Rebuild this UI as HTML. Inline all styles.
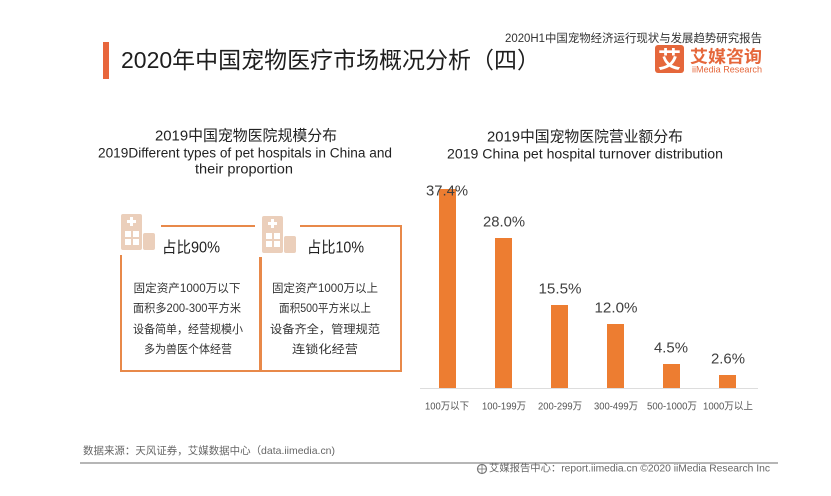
<!DOCTYPE html>
<html>
<head>
<meta charset="utf-8">
<style>
  html, body { margin: 0; padding: 0; background: #ffffff; }
  svg { display: block; }
  text { font-family: "Liberation Sans", "Noto Sans CJK SC", sans-serif; }
  .cjk { font-family: "Liberation Sans", "Noto Sans CJK SC", sans-serif; }
</style>
</head>
<body>
<svg width="831" height="496" viewBox="0 0 831 496" xmlns="http://www.w3.org/2000/svg">
  <rect x="0" y="0" width="831" height="496" fill="#ffffff"/>

  <!-- Header -->
  <rect x="103" y="42" width="6" height="37" fill="#e8663c"/>
  <text x="121" y="60" font-size="23" fill="#1e1e1e" dominant-baseline="central" textLength="419" lengthAdjust="spacingAndGlyphs">2020年中国宠物医疗市场概况分析（四）</text>
  <text x="505" y="39" font-size="11.5" fill="#333" dominant-baseline="central" textLength="257" lengthAdjust="spacingAndGlyphs">2020H1中国宠物经济运行现状与发展趋势研究报告</text>

  <!-- Logo -->
  <rect x="655" y="45" width="29" height="28" rx="3" fill="#e5673b"/>
  <text x="669.5" y="59.5" font-size="23" font-weight="bold" fill="#ffffff" text-anchor="middle" dominant-baseline="central">艾</text>
  <text x="690" y="57" font-size="17" font-weight="bold" fill="#e5673b" dominant-baseline="central" textLength="72" lengthAdjust="spacingAndGlyphs">艾媒咨询</text>
  <text x="692" y="70" font-size="9.5" fill="#e5673b" dominant-baseline="central" textLength="70" lengthAdjust="spacingAndGlyphs">iiMedia Research</text>

  <!-- Left section titles -->
  <text x="246" y="136" font-size="15" fill="#222" text-anchor="middle" dominant-baseline="central" textLength="182" lengthAdjust="spacingAndGlyphs">2019中国宠物医院规模分布</text>
  <text x="245" y="153" font-size="13.5" fill="#222" text-anchor="middle" dominant-baseline="central" textLength="294" lengthAdjust="spacingAndGlyphs">2019Different types of pet hospitals in China and</text>
  <text x="244" y="169" font-size="13.5" fill="#222" text-anchor="middle" dominant-baseline="central" textLength="98" lengthAdjust="spacingAndGlyphs">their proportion</text>

  <!-- Box outlines -->
  <g stroke="#e8894a" stroke-width="2" fill="none">
    <line x1="161" y1="226" x2="255" y2="226"/>
    <line x1="300" y1="226" x2="401" y2="226"/>
    <line x1="401" y1="225" x2="401" y2="372"/>
    <line x1="120" y1="371" x2="402" y2="371"/>
    <line x1="121" y1="255" x2="121" y2="372"/>
  </g>
  <rect x="259" y="257" width="3" height="115" fill="#e8894a"/>

  <!-- Icon 1 -->
  <g fill="#ebcfbb">
    <rect x="121" y="214" width="21" height="36" rx="2"/>
    <rect x="143" y="233" width="12" height="17" rx="2"/>
  </g>
  <g fill="#ffffff">
    <rect x="130" y="217" width="3" height="9"/>
    <rect x="127" y="220" width="9" height="3"/>
    <rect x="125" y="231" width="6" height="6"/>
    <rect x="133" y="231" width="6" height="6"/>
    <rect x="125" y="239" width="6" height="6"/>
    <rect x="133" y="239" width="6" height="6"/>
  </g>

  <!-- Icon 2 -->
  <g fill="#ebcfbb">
    <rect x="262" y="216" width="21" height="37" rx="2"/>
    <rect x="284" y="236" width="12" height="17" rx="2"/>
  </g>
  <g fill="#ffffff">
    <rect x="271" y="219" width="3" height="9"/>
    <rect x="268" y="222" width="9" height="3"/>
    <rect x="266" y="233" width="6" height="6"/>
    <rect x="274" y="233" width="6" height="6"/>
    <rect x="266" y="241" width="6" height="6"/>
    <rect x="274" y="241" width="6" height="6"/>
  </g>

  <!-- Box labels -->
  <text x="162" y="248" font-size="15.5" fill="#222" dominant-baseline="central" textLength="58" lengthAdjust="spacingAndGlyphs">占比90%</text>
  <text x="307" y="248" font-size="15.5" fill="#222" dominant-baseline="central" textLength="57" lengthAdjust="spacingAndGlyphs">占比10%</text>

  <g font-size="11.5" fill="#333" text-anchor="middle">
    <text x="187" y="289" dominant-baseline="central" textLength="107" lengthAdjust="spacingAndGlyphs">固定资产1000万以下</text>
    <text x="187" y="309" dominant-baseline="central" textLength="108" lengthAdjust="spacingAndGlyphs">面积多200-300平方米</text>
    <text x="188" y="330" dominant-baseline="central" textLength="110" lengthAdjust="spacingAndGlyphs">设备简单，经营规模小</text>
    <text x="188" y="350" dominant-baseline="central" textLength="88" lengthAdjust="spacingAndGlyphs">多为兽医个体经营</text>

    <text x="325" y="289" dominant-baseline="central" textLength="106" lengthAdjust="spacingAndGlyphs">固定资产1000万以上</text>
    <text x="325" y="309" dominant-baseline="central" textLength="92" lengthAdjust="spacingAndGlyphs">面积500平方米以上</text>
    <text x="325" y="330" dominant-baseline="central" textLength="110" lengthAdjust="spacingAndGlyphs">设备齐全，管理规范</text>
    <text x="325" y="350" dominant-baseline="central" textLength="66" lengthAdjust="spacingAndGlyphs">连锁化经营</text>
  </g>

  <!-- Right section titles -->
  <text x="585" y="137" font-size="15" fill="#222" text-anchor="middle" dominant-baseline="central" textLength="196" lengthAdjust="spacingAndGlyphs">2019中国宠物医院营业额分布</text>
  <text x="585" y="154" font-size="13.5" fill="#222" text-anchor="middle" dominant-baseline="central" textLength="276" lengthAdjust="spacingAndGlyphs">2019 China pet  hospital turnover distribution</text>

  <!-- Axis baseline -->
  <line x1="420" y1="388.5" x2="758" y2="388.5" stroke="#dddddd" stroke-width="1"/>

  <!-- Bars -->
  <g fill="#ed7d31">
    <rect x="439" y="189" width="17" height="199"/>
    <rect x="495" y="238" width="17" height="150"/>
    <rect x="551" y="305" width="17" height="83"/>
    <rect x="607" y="324" width="17" height="64"/>
    <rect x="663" y="364" width="17" height="24"/>
    <rect x="719" y="375" width="17" height="13"/>
  </g>

  <!-- Bar value labels -->
  <g font-size="15" fill="#404040" text-anchor="middle">
    <text x="447" y="191" dominant-baseline="central" textLength="42" lengthAdjust="spacingAndGlyphs">37.4%</text>
    <text x="504" y="222" dominant-baseline="central" textLength="42" lengthAdjust="spacingAndGlyphs">28.0%</text>
    <text x="560" y="289" dominant-baseline="central" textLength="43" lengthAdjust="spacingAndGlyphs">15.5%</text>
    <text x="616" y="308" dominant-baseline="central" textLength="43" lengthAdjust="spacingAndGlyphs">12.0%</text>
    <text x="671" y="348" dominant-baseline="central" textLength="34" lengthAdjust="spacingAndGlyphs">4.5%</text>
    <text x="728" y="359" dominant-baseline="central" textLength="34" lengthAdjust="spacingAndGlyphs">2.6%</text>
  </g>

  <!-- Category labels -->
  <g font-size="10" fill="#555" text-anchor="middle">
    <text x="447" y="407" dominant-baseline="central" textLength="44" lengthAdjust="spacingAndGlyphs">100万以下</text>
    <text x="504" y="407" dominant-baseline="central" textLength="44" lengthAdjust="spacingAndGlyphs">100-199万</text>
    <text x="560" y="407" dominant-baseline="central" textLength="44" lengthAdjust="spacingAndGlyphs">200-299万</text>
    <text x="616" y="407" dominant-baseline="central" textLength="44" lengthAdjust="spacingAndGlyphs">300-499万</text>
    <text x="672" y="407" dominant-baseline="central" textLength="50" lengthAdjust="spacingAndGlyphs">500-1000万</text>
    <text x="728" y="407" dominant-baseline="central" textLength="50" lengthAdjust="spacingAndGlyphs">1000万以上</text>
  </g>

  <!-- Footer -->
  <text x="83" y="451" font-size="10.5" fill="#666" dominant-baseline="central" textLength="252" lengthAdjust="spacingAndGlyphs">数据来源：天风证券，艾媒数据中心（data.iimedia.cn)</text>
  <line x1="80" y1="463" x2="778" y2="463" stroke="#8a8a8a" stroke-width="1.2"/>
  <circle cx="482" cy="469" r="4.5" fill="none" stroke="#777" stroke-width="1.2"/>
  <line x1="478" y1="469" x2="486" y2="469" stroke="#777" stroke-width="0.8"/>
  <line x1="482" y1="465" x2="482" y2="473" stroke="#777" stroke-width="0.8"/>
  <text x="489" y="469" font-size="10" fill="#666" dominant-baseline="central" textLength="281" lengthAdjust="spacingAndGlyphs">艾媒报告中心：report.iimedia.cn   ©2020  iiMedia Research  Inc</text>
</svg>
</body>
</html>
